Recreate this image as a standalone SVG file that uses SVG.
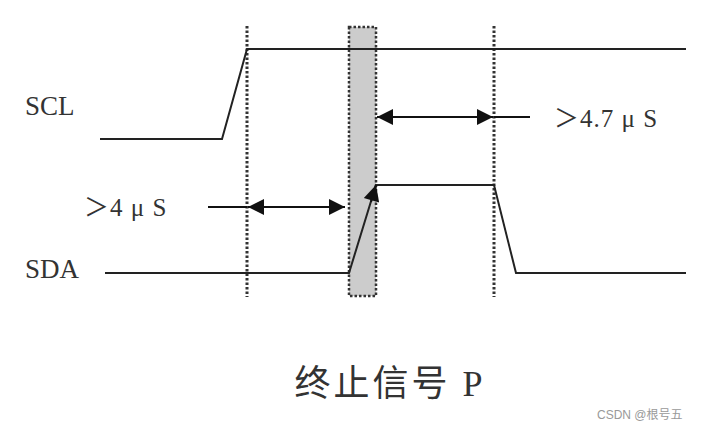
<svg xmlns="http://www.w3.org/2000/svg" width="712" height="431" viewBox="0 0 712 431">
<style>
.sig{fill:none;stroke:#222;stroke-width:2}
.dot{stroke:#333;stroke-width:3;stroke-dasharray:2.5 2}
.arr{stroke:#111;stroke-width:2;marker-start:url(#ah);marker-end:url(#ah)}
.t{font-family:"Liberation Serif","Noto Sans CJK SC",serif;fill:#333}
</style>
<defs><marker id="ah" viewBox="0 0 10 10" refX="10" refY="5" markerWidth="11" markerHeight="8" markerUnits="strokeWidth" orient="auto-start-reverse"><path d="M0,0L10,5L0,10z" fill="#111"/></marker></defs>
<rect width="712" height="431" fill="#fff"/>
<g id="shade"><rect x="349" y="27" width="27" height="269" fill="#ccc" stroke="#333" stroke-width="2.5" stroke-dasharray="2.5 2"/></g>
<g id="guides">
<line class="dot" x1="247" y1="26" x2="247" y2="297"/>
<line class="dot" x1="494" y1="26" x2="494" y2="297"/>
</g>
<g id="SCL">
<polyline class="sig" points="100,139 222,139 247,49 686,49"/>
<text class="t" x="25" y="115" font-size="27">SCL</text>
</g>
<g id="SDA">
<polyline class="sig" points="105,273 349,273 376,185 494,185 516,273 686,273"/>
<text class="t" x="25" y="278" font-size="27">SDA</text>
</g>
<g id="connectors">
<line class="arr" x1="377" y1="117" x2="493" y2="117"/>
<line x1="494" y1="117" x2="530" y2="117" stroke="#111" stroke-width="2"/>
<line class="arr" x1="248" y1="207" x2="345" y2="207"/>
<line x1="208" y1="207" x2="247" y2="207" stroke="#111" stroke-width="2"/>
<line x1="371" y1="202" x2="376" y2="185" stroke="#111" stroke-width="2" marker-end="url(#ah)"/>
</g>
<g id="labels">
<text class="t" x="554" y="127" font-size="25" letter-spacing="1">＞4.7 μ S</text>
<text class="t" x="84" y="216" font-size="25" letter-spacing="1">＞4 μ S</text>
<text class="t" x="390" y="396" font-size="36" text-anchor="middle" letter-spacing="3">终止信号 P</text>
<text x="597" y="419" font-size="12" fill="#999" font-family="Liberation Sans,Noto Sans CJK SC,sans-serif">CSDN @根号五</text>
</g>
</svg>
